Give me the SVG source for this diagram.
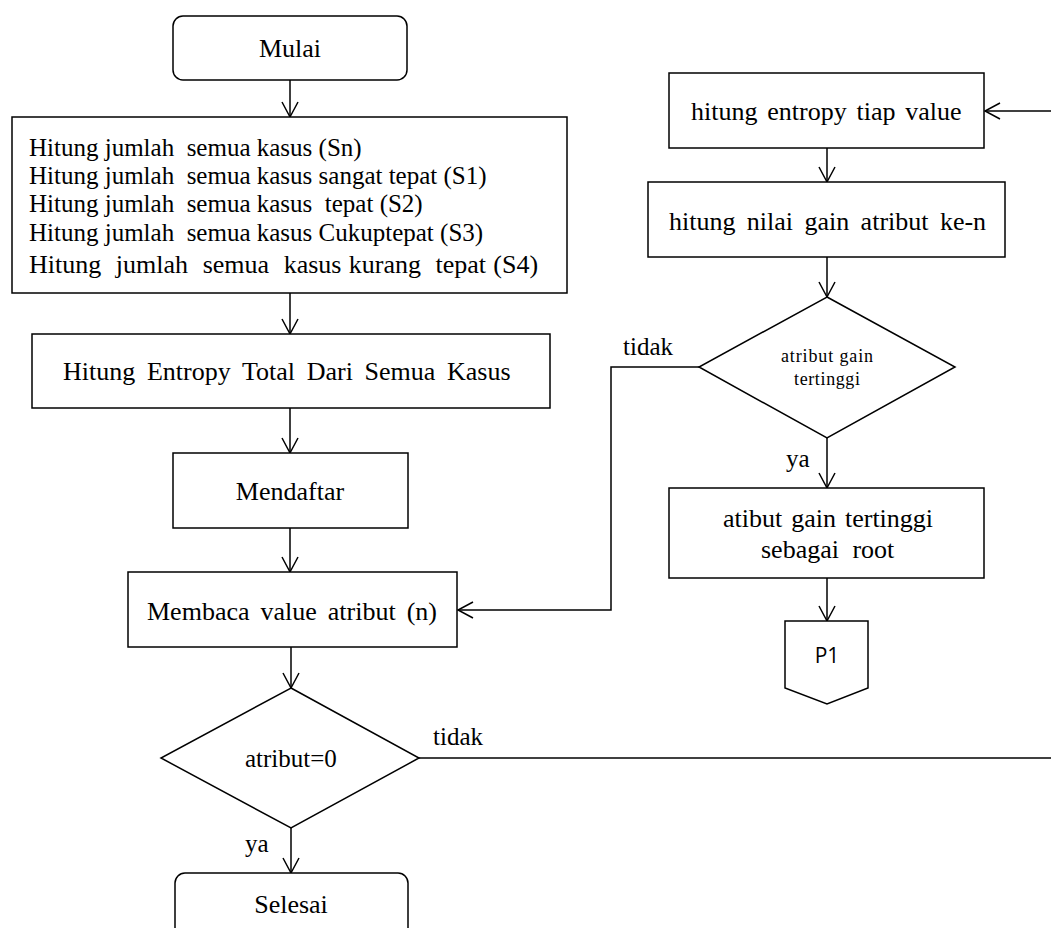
<svg xmlns="http://www.w3.org/2000/svg" width="1051" height="928" viewBox="0 0 1051 928">
  <style>
    .shape { fill: #fff; stroke: #000; stroke-width: 1.5; }
    .wire { fill: none; stroke: #000; stroke-width: 1.5; }
    .t { font-family: "Liberation Serif", "Times New Roman", serif; font-size: 26px; fill: #000; }
    .tb { font-family: "Liberation Serif", "Times New Roman", serif; font-size: 25px; fill: #000; }
    .ts { font-family: "Liberation Serif", "Times New Roman", serif; font-size: 18px; fill: #000; }
    .sans { font-family: "Open Sans", "Liberation Sans", sans-serif; font-size: 21px; fill: #000; }
    .mid { text-anchor: middle; }
    .pre { white-space: pre; }
  </style>
  <defs>
    <marker id="arrow" markerUnits="userSpaceOnUse" markerWidth="20" markerHeight="20" viewBox="0 0 20 20" refX="16" refY="9" orient="auto">
      <path d="M1,1 L16,9 L1,17" fill="none" stroke="#000" stroke-width="1.5"/>
    </marker>
  </defs>

  <rect width="1051" height="928" fill="#fff"/>

  <!-- connectors -->
  <g id="connectors">
    <line class="wire" x1="290" y1="80" x2="290" y2="117" marker-end="url(#arrow)"/>
    <line class="wire" x1="290" y1="293" x2="290" y2="334" marker-end="url(#arrow)"/>
    <line class="wire" x1="290" y1="408" x2="290" y2="453" marker-end="url(#arrow)"/>
    <line class="wire" x1="290" y1="528" x2="290" y2="572" marker-end="url(#arrow)"/>
    <line class="wire" x1="291" y1="647" x2="291" y2="688" marker-end="url(#arrow)"/>
    <line class="wire" x1="291" y1="828" x2="291" y2="873" marker-end="url(#arrow)"/>
    <line class="wire" x1="419" y1="758" x2="1051" y2="758"/>
    <line class="wire" x1="1051" y1="111" x2="985" y2="111" marker-end="url(#arrow)"/>
    <line class="wire" x1="827" y1="148" x2="827" y2="182" marker-end="url(#arrow)"/>
    <line class="wire" x1="827" y1="257" x2="827" y2="297" marker-end="url(#arrow)"/>
    <line class="wire" x1="827" y1="438" x2="827" y2="488" marker-end="url(#arrow)"/>
    <line class="wire" x1="827" y1="578" x2="827" y2="621" marker-end="url(#arrow)"/>
    <polyline class="wire" points="699,367 611,367 611,610 458,610" marker-end="url(#arrow)"/>
    <text class="tb" x="623" y="355">tidak</text>
    <text class="tb" x="786" y="467">ya</text>
    <text class="tb" x="433" y="745">tidak</text>
    <text class="tb" x="245" y="852">ya</text>
  </g>

  <g id="mulai">
    <rect class="shape" x="173" y="16" width="234" height="64" rx="10"/>
    <text class="t mid" x="290" y="57">Mulai</text>
  </g>

  <g id="hitung-kasus">
    <rect class="shape" x="12" y="117" width="555" height="176"/>
    <text class="tb pre" xml:space="preserve" x="29" y="156">Hitung jumlah  semua kasus (Sn)</text>
    <text class="tb pre" xml:space="preserve" x="29" y="184">Hitung jumlah  semua kasus sangat tepat (S1)</text>
    <text class="tb pre" xml:space="preserve" x="29" y="212">Hitung jumlah  semua kasus  tepat (S2)</text>
    <text class="tb pre" xml:space="preserve" x="29" y="241">Hitung jumlah  semua kasus Cukuptepat (S3)</text>
    <text class="t pre" xml:space="preserve" x="29" y="273" word-spacing="0.8">Hitung  jumlah  semua  kasus kurang  tepat (S4)</text>
  </g>

  <g id="entropy-total">
    <rect class="shape" x="32" y="334" width="518" height="74"/>
    <text class="t" x="63" y="380" word-spacing="5.2">Hitung Entropy Total Dari Semua Kasus</text>
  </g>

  <g id="mendaftar">
    <rect class="shape" x="173" y="453" width="235" height="75"/>
    <text class="t mid" x="290" y="500">Mendaftar</text>
  </g>

  <g id="membaca">
    <rect class="shape" x="128" y="572" width="329" height="75"/>
    <text class="t" x="147" y="620" word-spacing="4.5">Membaca value atribut (n)</text>
  </g>

  <g id="cek-atribut">
    <polygon class="shape" points="291,688 419,758 291,828 161,758"/>
    <text class="tb" x="245" y="767">atribut=0</text>
  </g>

  <g id="selesai">
    <rect class="shape" x="175" y="873" width="233" height="80" rx="10"/>
    <text class="t mid" x="291" y="913">Selesai</text>
  </g>

  <g id="entropy-value">
    <rect class="shape" x="669" y="73" width="315" height="75"/>
    <text class="t" x="691" y="120" word-spacing="3.3">hitung entropy tiap value</text>
  </g>

  <g id="gain-atribut">
    <rect class="shape" x="648" y="182" width="357" height="75"/>
    <text class="t" x="669" y="230" word-spacing="4.9">hitung nilai gain atribut ke-n</text>
  </g>

  <g id="cek-gain">
    <polygon class="shape" points="827,297 955,367 827,438 699,367"/>
    <text class="ts" x="781" y="362" textLength="92" lengthAdjust="spacing">atribut gain</text>
    <text class="ts" x="794" y="385" textLength="66" lengthAdjust="spacing">tertinggi</text>
  </g>

  <g id="root">
    <rect class="shape" x="669" y="488" width="315" height="90"/>
    <text class="t" x="723" y="527" word-spacing="2.5">atibut gain tertinggi</text>
    <text class="t" x="761" y="558" word-spacing="7">sebagai root</text>
  </g>

  <g id="p1">
    <path class="shape" d="M785,621 H868 V688 L827,704 L785,688 Z"/>
    <text class="sans mid" x="827" y="663">P1</text>
  </g>
</svg>
